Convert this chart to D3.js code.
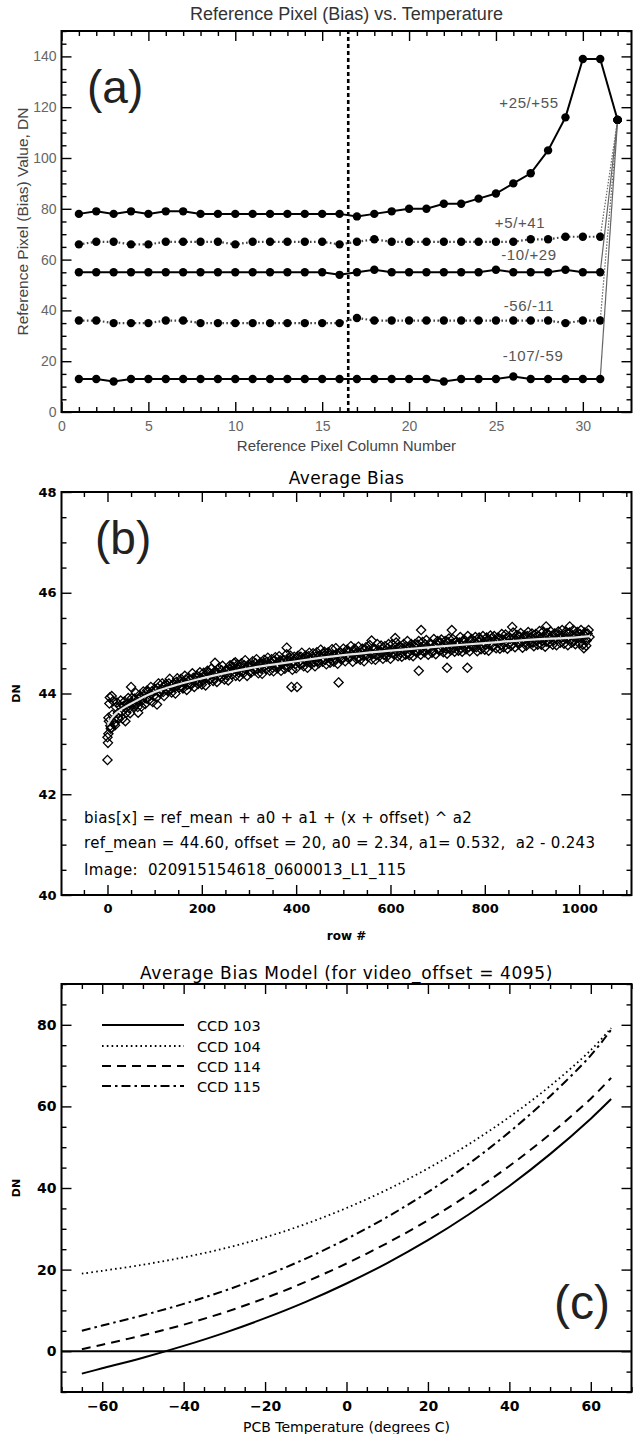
<!DOCTYPE html>
<html>
<head>
<meta charset="utf-8">
<script src="https://cdn.jsdelivr.net/npm/d3@7"></script>
<style>
  body { margin: 0; background: #fff; }
  svg { display: block; }
</style>
</head>
<body>
<svg id="fig" width="641" height="1434"></svg>
<script>
// ---------------- Panel (a): reference pixel bias per column ----------------
const colNumbers = [1,2,3,4,5,6,7,8,9,10,11,12,13,14,15,16,17,18,19,20,21,22,23,24,25,26,27,28,29,30,31,32];
const biasP25 = [78,79,78,79,78,79,79,78,78,78,78,78,78,78,78,78,77,78,79,80,80,82,82,84,86,90,94,103,116,139,139,115];
const biasP5  = [66,67,67,66,66,67,67,67,67,66,67,67,67,67,67,66,67,68,67,67,67,67,67,67,67,67,68,68,69,69,69,115];
const biasM10 = [55,55,55,55,55,55,55,55,55,55,55,55,55,55,55,54,55,56,55,55,55,55,55,55,56,55,55,55,56,55,55,115];
const biasM56 = [36,36,35,35,35,36,36,35,35,35,35,35,35,35,35,35,37,36,36,36,36,36,36,36,36,36,36,36,35,36,36,115];
const biasM107= [13,13,12,13,13,13,13,13,13,13,13,13,13,13,13,13,13,13,13,13,13,12,13,13,13,14,13,13,13,13,13,115];
const tempRanges = ["+25/+55", "+5/+41", "-10/+29", "-56/-11", "-107/-59"];
const colDivider = 16.5;
const colTicks = [0,5,10,15,20,25,30];
const refTicks = [0,20,40,60,80,100,120,140];

// ---------------- Panel (b): average bias along rows ----------------
// rows 0, 4, 8, ...
const bandBias = [
  43.13,43.80,43.32,43.85,43.37,43.82,43.50,43.86,43.50,43.84,
  43.62,43.91,43.61,43.91,43.75,44.01,43.73,43.97,43.74,44.04,
  43.79,44.06,43.87,44.13,43.83,44.09,43.92,44.20,44.02,44.20,
  43.95,44.19,44.05,44.29,44.02,44.20,44.00,44.30,44.12,44.29,
  44.10,44.35,44.07,44.31,44.19,44.40,44.13,44.33,44.19,44.42,
  44.18,44.41,44.16,44.45,44.28,44.49,44.25,44.44,44.23,44.50,
  44.32,44.55,44.28,44.47,44.26,44.56,44.38,44.60,44.35,44.57,
  44.34,44.60,44.40,44.66,44.35,44.58,44.41,44.64,44.46,44.68,
  44.40,44.61,44.39,44.67,44.48,44.71,44.45,44.68,44.44,44.72,
  44.50,44.74,44.45,44.67,44.49,44.78,44.53,44.75,44.47,44.73,
  44.50,44.75,44.58,44.81,44.54,44.75,44.51,44.81,44.59,44.80,
  44.54,44.82,44.60,44.87,44.63,44.83,44.58,44.82,44.61,44.88,
  44.63,44.90,44.59,44.82,44.67,44.89,44.64,44.87,44.70,44.94,
  44.63,44.89,44.69,44.93,44.67,44.89,44.64,44.92,44.73,44.96,
  44.68,44.90,44.67,44.98,44.74,44.95,44.69,44.94,44.73,44.98,
  44.69,44.98,44.77,45.01,44.74,44.93,44.73,44.98,44.77,45.04,
  44.76,44.98,44.74,44.98,44.82,45.04,44.77,45.02,44.82,45.06,
  44.77,45.00,44.81,45.08,44.78,45.04,44.85,45.07,44.82,45.04,
  44.79,45.09,44.86,45.08,44.83,45.03,44.85,45.12,44.83,45.07,
  44.88,45.14,44.84,45.08,44.91,45.12,44.84,45.11,44.88,45.14,
  44.87,45.11,44.85,45.15,44.93,45.14,44.90,45.11,44.89,45.18,
  44.92,45.17,44.89,45.12,44.95,45.21,44.92,45.16,44.98,45.20,
  44.91,45.15,44.95,45.22,45.00,45.19,44.94,45.18,44.97,45.24,
  44.97,45.23,44.93,45.20,45.01,45.23,44.97,45.19,44.96,45.23,
  45.01,45.26,44.99,45.23,44.96,45.21,45.01,45.26,44.98,45.22,
  45.00,45.26,44.97,45.21,45.05,45.26
];
// rows 2, 6, 10, ...
const bandBiasMid = [
  43.52,43.36,43.58,43.49,43.73,43.61,43.75,43.63,43.75,43.71,
  43.79,43.71,43.82,43.79,43.90,43.79,43.89,43.94,43.87,43.96,
  43.90,44.04,43.96,44.04,43.95,44.06,44.11,44.02,44.09,44.03,
  44.15,44.08,44.20,44.08,44.17,44.12,44.23,44.17,44.23,44.13,
  44.23,44.28,44.18,44.27,44.18,44.31,44.25,44.35,44.25,44.31,
  44.25,44.36,44.32,44.41,44.30,44.38,44.30,44.43,44.40,44.36,
  44.46,44.38,44.45,44.36,44.49,44.44,44.53,44.42,44.50,44.42,
  44.53,44.44,44.56,44.48,44.53,44.44,44.56,44.49,44.60,44.49,
  44.56,44.49,44.60,44.55,44.63,44.53,44.61,44.51,44.65,44.57,
  44.55,44.66,44.59,44.66,44.55,44.65,44.70,44.59,44.65,44.58,
  44.70,44.62,44.73,44.60,44.69,44.63,44.74,44.67,44.73,44.62,
  44.73,44.64,44.76,44.69,44.79,44.67,44.74,44.79,44.70,44.76,
  44.68,44.79,44.74,44.82,44.71,44.80,44.74,44.84,44.72,44.79,
  44.84,44.77,44.83,44.72,44.82,44.75,44.87,44.78,44.86,44.80,
  44.78,44.89,44.76,44.86,44.81,44.88,44.77,44.85,44.90,44.82,
  44.87,44.80,44.92,44.83,44.93,44.81,44.90,44.86,44.93,44.81,
  44.93,44.87,44.93,44.83,44.97,44.86,44.91,44.84,44.97,44.89,
  44.89,44.98,44.85,44.95,44.98,44.88,45.01,44.92,44.97,44.89,
  45.02,44.91,44.98,44.90,45.01,44.95,45.01,44.90,45.03,44.95,
  44.99,44.92,45.05,44.96,45.03,44.92,45.03,45.07,44.95,45.02,
  44.97,45.06,44.99,45.09,44.96,45.05,45.02,45.09,44.96,45.07,
  45.02,45.10,44.99,45.08,44.98,45.10,45.06,45.02,45.13,45.03,
  45.10,45.01,45.14,45.05,45.12,45.01,45.10,45.04,45.14,45.08,
  45.04,45.12,45.03,45.16,45.08,45.14,45.05,45.18,45.08,45.16,
  45.10,45.06,45.17,45.09,45.19,45.07,45.14,45.05,45.16,45.10,
  45.18,45.09,45.16,45.07,45.19,45.12
];
const bandRows = d3.range(0, 1024, 4);
const bandRowsMid = d3.range(2, 1024, 4);
const strayRows = [0,1,2,3,5,7,9,14,22,38,50,65,105,228,271,380,390,402,490,560,610,660,665,720,730,763,858,930,980,1010,1015];
const strayBias = [42.68,43.02,43.20,43.45,43.92,43.30,43.95,43.40,43.52,43.45,44.13,43.62,43.78,44.61,44.62,44.91,44.13,44.13,44.22,45.05,45.10,44.45,45.26,44.51,45.26,44.51,45.32,45.33,45.33,44.90,44.95];
const fitRows = [0,10,20,50,100,150,200,300,400,500,600,700,800,900,1000,1023];
const fitBias = [43.38,43.52,43.62,43.80,44.03,44.18,44.30,44.50,44.64,44.76,44.85,44.93,45.00,45.07,45.12,45.14];
const rowTicks = [0,200,400,600,800,1000];
const dnTicksB = [40,42,44,46,48];
const fitNotes = [
  "bias[x] = ref_mean + a0 + a1 + (x + offset) ^ a2",
  "ref_mean = 44.60, offset = 20, a0 = 2.34, a1= 0.532,  a2 - 0.243",
  "Image:  020915154618_0600013_L1_115"
];

// ---------------- Panel (c): bias model vs PCB temperature ----------------
const pcbTemp = [-65,-60,-50,-40,-30,-20,-10,0,10,20,30,40,50,60,65];
const ccd103 = [-5.5,-4.2,-1.6,1.3,4.5,8.1,12.1,16.6,21.6,27.2,33.5,40.5,48.3,57.0,61.8];
const ccd104 = [19.0,19.7,21.2,23.0,25.2,27.9,31.2,35.1,39.6,44.8,50.7,57.4,65.0,73.8,79.2];
const ccd114 = [0.5,1.6,3.9,6.5,9.5,13.0,17.0,21.5,26.5,32.1,38.4,45.4,53.2,61.9,67.0];
const ccd115 = [5.0,6.3,8.8,11.6,14.8,18.5,22.7,27.5,32.9,39.0,45.9,53.7,62.5,72.5,78.8];
const ccdNames = ["CCD 103", "CCD 104", "CCD 114", "CCD 115"];
const tempTicks = [-60,-40,-20,0,20,40,60];
const dnTicksC = [0,20,40,60,80];

// ---------------------------------------------------------------------------
const svg = d3.select("#fig");
const LEFT = 61.5, RIGHT = 631.5, MID = (LEFT + RIGHT) / 2;

// boxed plot with inward ticks on all four sides
function boxAxes(g, x, y, o) {
  const [yb, yt] = y.range();
  const [xl, xr] = x.range();
  const style = sel => {
    sel.select(".domain").remove();
    sel.selectAll("line").attr("stroke", "#000").attr("stroke-width", 1.4);
    sel.selectAll("text").attr("font-family", o.font).attr("font-size", o.tickSize)
       .attr("font-weight", o.tickWeight).attr("fill", o.tickColor);
  };
  g.append("g").attr("transform", `translate(0,${yb})`)
    .call(d3.axisBottom(x).tickValues(o.xMajor).tickSizeInner(-o.major).tickSizeOuter(0).tickPadding(o.xPad).tickFormat(d3.format("d")))
    .call(style);
  g.append("g").attr("transform", `translate(${xl},0)`)
    .call(d3.axisLeft(y).tickValues(o.yMajor).tickSizeInner(-o.major).tickSizeOuter(0).tickPadding(o.yPad).tickFormat(d3.format("d")))
    .call(style);
  g.append("g").attr("transform", `translate(0,${yt})`)
    .call(d3.axisTop(x).tickValues(o.xMajor).tickSizeInner(-o.major).tickSizeOuter(0).tickFormat(""))
    .call(style);
  g.append("g").attr("transform", `translate(${xr},0)`)
    .call(d3.axisRight(y).tickValues(o.yMajor).tickSizeInner(-o.major).tickSizeOuter(0).tickFormat(""))
    .call(style);
  const xm = o.xMinor.filter(v => !o.xMajor.includes(v));
  const ym = o.yMinor.filter(v => !o.yMajor.includes(v));
  [[d3.axisBottom(x).tickValues(xm), `translate(0,${yb})`],
   [d3.axisTop(x).tickValues(xm), `translate(0,${yt})`],
   [d3.axisLeft(y).tickValues(ym), `translate(${xl},0)`],
   [d3.axisRight(y).tickValues(ym), `translate(${xr},0)`]].forEach(([ax, tr]) => {
    g.append("g").attr("transform", tr)
      .call(ax.tickSizeInner(-o.minor).tickSizeOuter(0).tickFormat(""))
      .call(style);
  });
  g.append("rect").attr("x", xl).attr("y", yt).attr("width", xr - xl).attr("height", yb - yt)
    .attr("fill", "none").attr("stroke", "#000").attr("stroke-width", 2);
}

function steps(a, b, s) { const out = []; for (let v = a; v <= b + 1e-9; v += s) out.push(+v.toFixed(6)); return out; }

// ======================= Panel (a) =======================
{
  const g = svg.append("g");
  const x = d3.scaleLinear().domain([0, 32.8]).range([LEFT, RIGHT]);
  const y = d3.scaleLinear().domain([0, 150]).range([412, 31]);
  const helv = "'Liberation Sans', Arial, sans-serif";

  g.append("line")
    .attr("x1", x(colDivider)).attr("x2", x(colDivider))
    .attr("y1", y(0)).attr("y2", y(150))
    .attr("stroke", "#000").attr("stroke-width", 2.6).attr("stroke-dasharray", "4,3");

  const allSeries = [biasP25, biasP5, biasM10, biasM56, biasM107];
  const dotted = [false, true, false, true, false];
  const line = d3.line().x((d, i) => x(colNumbers[i])).y(d => y(d));
  allSeries.forEach((s, k) => {
    g.append("path").datum(s.slice(0, 31)).attr("d", line)
      .attr("fill", "none").attr("stroke", dotted[k] ? "#444" : "#000")
      .attr("stroke-width", dotted[k] ? 2.2 : 2)
      .attr("stroke-dasharray", dotted[k] ? "1.6,2.4" : null);
    g.append("line")
      .attr("x1", x(colNumbers[30])).attr("y1", y(s[30]))
      .attr("x2", x(colNumbers[31])).attr("y2", y(s[31]))
      .attr("stroke", k === 0 ? "#000" : "#666")
      .attr("stroke-width", k === 0 ? 2 : 1.2)
      .attr("stroke-dasharray", dotted[k] ? "1.5,1.5" : null);
    g.selectAll(null).data(s).enter().append("circle")
      .attr("cx", (d, i) => x(colNumbers[i])).attr("cy", d => y(d)).attr("r", 4.2).attr("fill", "#000");
  });

  const labelPos = [[529, 108], [520, 228], [529, 260], [529, 311], [533, 361]];
  tempRanges.forEach((t, k) => {
    g.append("text").attr("x", labelPos[k][0]).attr("y", labelPos[k][1])
      .attr("text-anchor", "middle").attr("font-family", helv).attr("font-size", 15)
      .attr("letter-spacing", 0.6).attr("fill", "#555").text(t);
  });

  boxAxes(g, x, y, {
    xMajor: colTicks, yMajor: refTicks,
    xMinor: steps(0, 32, 1), yMinor: steps(0, 150, 5),
    major: 10, minor: 5, xPad: 9, yPad: 5,
    font: helv, tickSize: 14, tickWeight: 400, tickColor: "#666"
  });

  g.append("text").attr("x", MID).attr("y", 20).attr("text-anchor", "middle")
    .attr("font-family", helv).attr("font-size", 18).attr("fill", "#333")
    .text("Reference Pixel (Bias) vs. Temperature");
  g.append("text").attr("x", MID).attr("y", 451).attr("text-anchor", "middle")
    .attr("font-family", helv).attr("font-size", 15).attr("fill", "#444")
    .text("Reference Pixel Column Number");
  g.append("text").attr("transform", `translate(28,${(31 + 412) / 2}) rotate(-90)`)
    .attr("text-anchor", "middle").attr("font-family", helv).attr("font-size", 15.5).attr("fill", "#444")
    .text("Reference Pixel (Bias) Value, DN");
  g.append("text").attr("x", 87).attr("y", 103).attr("font-family", helv)
    .attr("font-size", 46).attr("fill", "#222").text("(a)");
}

// ======================= Panel (b) =======================
{
  const g = svg.append("g");
  const x = d3.scaleLinear().domain([-97.5, 1111]).range([LEFT, RIGHT]);
  const y = d3.scaleLinear().domain([40, 48]).range([895, 492]);
  const font = "'DejaVu Sans', sans-serif";

  const diamond = (cx, cy) => `M${cx},${cy - 4.6}L${cx + 4.6},${cy}L${cx},${cy + 4.6}L${cx - 4.6},${cy}Z`;
  const pts = bandRows.map((r, i) => [r, bandBias[i]])
    .concat(bandRowsMid.map((r, i) => [r, bandBiasMid[i]]))
    .concat(strayRows.map((r, i) => [r, strayBias[i]]));
  g.append("g").selectAll("path").data(pts).enter().append("path")
    .attr("d", d => diamond(x(d[0]), y(d[1])))
    .attr("fill", "none").attr("stroke", "#000").attr("stroke-width", 1.3);

  g.append("path").datum(fitRows.map((r, i) => [r, fitBias[i]]))
    .attr("d", d3.line().x(d => x(d[0])).y(d => y(d[1])).curve(d3.curveMonotoneX))
    .attr("fill", "none").attr("stroke", "#e6e6e6").attr("stroke-width", 2.2);

  boxAxes(g, x, y, {
    xMajor: rowTicks, yMajor: dnTicksB,
    xMinor: steps(-50, 1100, 50), yMinor: steps(40, 48, 0.5),
    major: 10, minor: 5, xPad: 9, yPad: 5,
    font: font, tickSize: 13, tickWeight: 700, tickColor: "#000"
  });

  fitNotes.forEach((t, i) => {
    g.append("text").attr("x", 84).attr("y", [823, 848, 875][i])
      .attr("font-family", font).attr("font-size", 15).attr("letter-spacing", 0.3).attr("fill", "#000")
      .attr("xml:space", "preserve").style("white-space", "pre").text(t);
  });

  g.append("text").attr("x", MID).attr("y", 484).attr("text-anchor", "middle")
    .attr("font-family", font).attr("font-size", 17).attr("letter-spacing", 0.4).text("Average Bias");
  g.append("text").attr("x", MID).attr("y", 940).attr("text-anchor", "middle")
    .attr("font-family", font).attr("font-size", 12).attr("font-weight", 700).text("row #");
  g.append("text").attr("transform", `translate(20,${(492 + 895) / 2}) rotate(-90)`)
    .attr("text-anchor", "middle").attr("font-family", font).attr("font-size", 11)
    .attr("font-weight", 700).text("DN");
  g.append("text").attr("x", 95).attr("y", 554).attr("font-family", "'Liberation Sans', sans-serif")
    .attr("font-size", 46).attr("fill", "#222").text("(b)");
}

// ======================= Panel (c) =======================
{
  const g = svg.append("g");
  const x = d3.scaleLinear().domain([-70, 70]).range([LEFT, RIGHT]);
  const y = d3.scaleLinear().domain([-10, 90]).range([1392, 984]);
  const font = "'DejaVu Sans', sans-serif";

  g.append("line").attr("x1", x(-70)).attr("x2", x(70)).attr("y1", y(0)).attr("y2", y(0))
    .attr("stroke", "#000").attr("stroke-width", 2);

  const dashes = [null, "1.6,3.2", "9,6", "9,4,2.5,4"];
  const widths = [2, 1.8, 2, 2];
  const curves = [ccd103, ccd104, ccd114, ccd115];
  const line = d3.line().x((d, i) => x(pcbTemp[i])).y(d => y(d)).curve(d3.curveCatmullRom);
  curves.forEach((c, k) => {
    g.append("path").datum(c).attr("d", line)
      .attr("fill", "none").attr("stroke", "#000").attr("stroke-width", widths[k])
      .attr("stroke-dasharray", dashes[k]);
  });

  const legY = [1025, 1046, 1066, 1086];
  ccdNames.forEach((n, k) => {
    g.append("line").attr("x1", 102).attr("x2", 184).attr("y1", legY[k]).attr("y2", legY[k])
      .attr("stroke", "#000").attr("stroke-width", widths[k]).attr("stroke-dasharray", dashes[k]);
    g.append("text").attr("x", 197).attr("y", legY[k] + 5.5)
      .attr("font-family", font).attr("font-size", 14.5).text(n);
  });

  boxAxes(g, x, y, {
    xMajor: tempTicks, yMajor: dnTicksC,
    xMinor: steps(-70, 70, 5), yMinor: steps(-10, 90, 5),
    major: 10, minor: 5, xPad: 9, yPad: 5,
    font: font, tickSize: 14, tickWeight: 700, tickColor: "#000"
  });

  g.append("text").attr("x", MID).attr("y", 979).attr("text-anchor", "middle")
    .attr("font-family", font).attr("font-size", 17).attr("letter-spacing", 0.6)
    .text("Average Bias Model (for video_offset = 4095)");
  g.append("text").attr("x", MID).attr("y", 1432).attr("text-anchor", "middle")
    .attr("font-family", font).attr("font-size", 14).text("PCB Temperature (degrees C)");
  g.append("text").attr("transform", `translate(20,${(984 + 1392) / 2}) rotate(-90)`)
    .attr("text-anchor", "middle").attr("font-family", font).attr("font-size", 11)
    .attr("font-weight", 700).text("DN");
  g.append("text").attr("x", 554).attr("y", 1319).attr("font-family", "'Liberation Sans', sans-serif")
    .attr("font-size", 48).attr("fill", "#222").text("(c)");
}
</script>
</body>
</html>
